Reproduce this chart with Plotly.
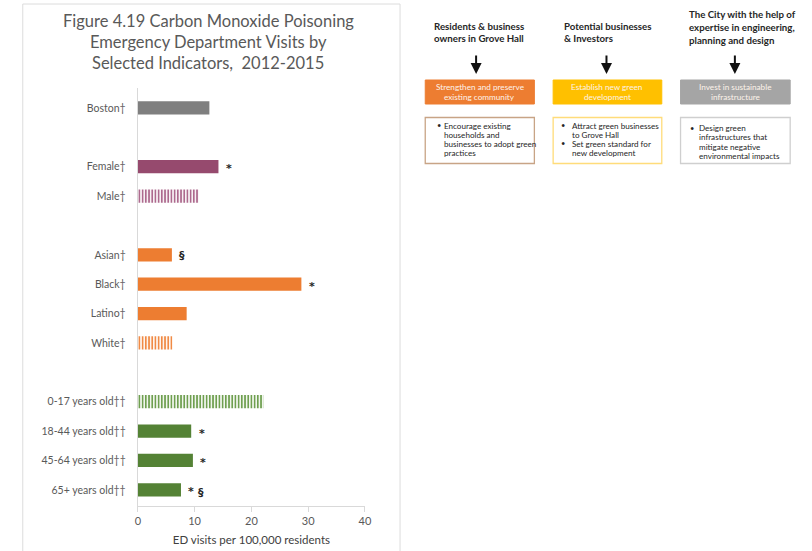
import plotly.graph_objects as go

# ---- data -------------------------------------------------------------
group_boston = ["Boston†"]
group_sex = ["Female†", "Male†"]
group_race = ["Asian†", "Black†", "Latino†", "White†"]
group_age = ["0-17 years old††", "18-44 years old††", "45-64 years old††", "65+ years old††"]

rate_boston = [12.6]
rate_sex = [14.2, 10.7]
rate_race = [6.0, 28.8, 8.6, 6.1]
rate_age = [22.1, 9.4, 9.7, 7.6]

# significance markers shown to the right of each bar
flags_boston = [""]
flags_sex = ["*", ""]
flags_race = ["§", "*", "", ""]
flags_age = ["", "*", "*", "*"]
extra_flag_age = ["", "", "", "§"]

x_ticks = [0, 10, 20, 30, 40]
x_title = "ED visits per 100,000 residents"

title_lines = [
    "Figure 4.19 Carbon Monoxide Poisoning",
    "Emergency Department Visits by",
    "Selected Indicators,  2012-2015",
]

# ---- styling ----------------------------------------------------------
W, H = 812, 551
FONT = "Lato"
GREY_TXT = "#595959"
AXIS_CLR = "#d9d9d9"

group_styles = [
    # (fill colour, striped?) per bar
    [("#7f7f7f", False)],
    [("#964a6e", False), ("#ad6a8e", True)],
    [("#ed7d31", False), ("#ed7d31", False), ("#ed7d31", False), ("#f08a45", True)],
    [("#6f9f50", True), ("#548235", False), ("#548235", False), ("#548235", False)],
]

groups = [group_boston, group_sex, group_race, group_age]
rates = [rate_boston, rate_sex, rate_race, rate_age]
flags = [flags_boston, flags_sex, flags_race, flags_age]

# slot index for each bar, leaving one empty slot between groups
labels, values, slots, colors, shapes_p, flag_list = [], [], [], [], [], []
slot = 0
for gi, (g, r, f, st) in enumerate(zip(groups, rates, flags, group_styles)):
    for lab, val, fl, (col, striped) in zip(g, r, f, st):
        labels.append(lab)
        values.append(val)
        slots.append(slot)
        colors.append(col)
        shapes_p.append("|" if striped else "")
        flag_list.append(fl)
        slot += 1
    slot += 1

def px(x):
    return x / W

def py(y):
    return 1 - y / H

fig = go.Figure()

fig.add_trace(go.Bar(
    x=values,
    y=slots,
    orientation="h",
    width=0.45,
    marker=dict(
        color=colors,
        line=dict(width=0),
        pattern=dict(shape=shapes_p, size=3.2, solidity=0.55, fillmode="replace"),
    ),
    hoverinfo="skip",
    showlegend=False,
))

annotations = []

# significance markers
FLAG_FONT = dict(family="DejaVu Sans", size=11, color="#262626")
for v, s, fl in zip(values, slots, flag_list):
    if fl:
        annotations.append(dict(
            x=v, y=s, xref="x", yref="y", text=f"<b>{fl}</b>", showarrow=False,
            xshift=10.5, yshift=-2 if fl == "*" else -1,
            xanchor="center", yanchor="middle", font=FLAG_FONT,
        ))
for v, s, fl in zip(rate_age, slots[-len(rate_age):], extra_flag_age):
    if fl:
        annotations.append(dict(
            x=v, y=s, xref="x", yref="y", text=f"<b>{fl}</b>", showarrow=False,
            xshift=20, yshift=-3, xanchor="center", yanchor="middle", font=FLAG_FONT,
        ))

# chart title, one annotation per line
for i, line in enumerate(title_lines):
    annotations.append(dict(
        x=px(208), y=py(21 + 21.2 * i), xref="paper", yref="paper",
        text=line, showarrow=False, xanchor="center", yanchor="middle",
        font=dict(family=FONT, size=16.5, color=GREY_TXT),
    ))

# ---- flow diagram on the right -----------------------------------------
columns = [
    dict(
        header=["Residents & business", "owners in Grove Hall"],
        header_y=[26, 38.5], header_x=434,
        action=["Strengthen and preserve", "existing community"],
        fill="#ed7d31", border="#c8a486",
        bullets=[["Encourage existing", "households and", "businesses to adopt green", "practices"]],
        bullet_x=437, text_x=444, first_line=125.5,
        x0=427.5, x1=538, arrow_x=479,
    ),
    dict(
        header=["Potential businesses", "& Investors"],
        header_y=[26, 38.5], header_x=566,
        action=["Establish new green", "development"],
        fill="#ffc000", border="#ffdc7a",
        bullets=[["Attract green businesses", "to Grove Hall"], ["Set green standard for", "new development"]],
        bullet_x=563, text_x=574.5, first_line=125.5,
        x0=557, x1=667, arrow_x=611,
    ),
    dict(
        header=["The City with the help of", "expertise in engineering,", "planning and design"],
        header_y=[14, 27, 40], header_x=693,
        action=["Invest in sustainable", "infrastructure"],
        fill="#a5a5a5", border="#cfcfcf",
        bullets=[["Design green", "infrastructures that", "mitigate negative", "environmental impacts"]],
        bullet_x=694, text_x=702.5, first_line=128.3,
        x0=686, x1=797, arrow_x=741,
    ),
]

shapes = [
    # frame around the bar chart panel
    dict(type="rect", xref="paper", yref="paper",
         x0=px(20), x1=px(402), y0=py(560), y1=py(4),
         line=dict(color="#dcdcdc", width=1), fillcolor="rgba(0,0,0,0)", layer="below"),
]

for col in columns:
    for t, yy in zip(col["header"], col["header_y"]):
        annotations.append(dict(
            x=px(col["header_x"]), y=py(yy), xref="paper", yref="paper",
            text=f"<b>{t}</b>", showarrow=False, xanchor="left", yanchor="middle",
            font=dict(family=FONT, size=9.7, color="#262626"),
        ))
    # downward arrow
    annotations.append(dict(
        x=px(col["arrow_x"]), y=py(74), xref="paper", yref="paper",
        ax=0, ay=-20, text="", showarrow=True,
        arrowhead=2, arrowsize=1.1, arrowwidth=2, arrowcolor="#111111",
    ))
    # coloured action box
    shapes.append(dict(
        type="rect", xref="paper", yref="paper",
        x0=px(col["x0"]), x1=px(col["x1"]), y0=py(104), y1=py(80),
        line=dict(color=col["fill"], width=1), fillcolor=col["fill"],
    ))
    for i, t in enumerate(col["action"]):
        annotations.append(dict(
            x=px((col["x0"] + col["x1"]) / 2), y=py(87 + 10.5 * i),
            xref="paper", yref="paper", text=t, showarrow=False,
            xanchor="center", yanchor="middle",
            font=dict(family=FONT, size=8.2, color="#fdf3ea"),
        ))
    # bullet box
    shapes.append(dict(
        type="rect", xref="paper", yref="paper",
        x0=px(col["x0"]), x1=px(col["x1"]), y0=py(163.5), y1=py(117.5),
        line=dict(color=col["border"], width=1.3), fillcolor="#ffffff",
    ))
    yy = col["first_line"]
    for bullet in col["bullets"]:
        annotations.append(dict(
            x=px(col["bullet_x"]), y=py(yy), xref="paper", yref="paper",
            text="•", showarrow=False, xanchor="left", yanchor="middle",
            font=dict(family=FONT, size=7.5, color="#262626"),
        ))
        for t in bullet:
            annotations.append(dict(
                x=px(col["text_x"]), y=py(yy), xref="paper", yref="paper",
                text=t, showarrow=False, xanchor="left", yanchor="middle",
                font=dict(family=FONT, size=8.1, color="#262626"),
            ))
            yy += 9.1

fig.update_layout(
    width=W, height=H,
    margin=dict(l=0, r=0, t=0, b=0),
    paper_bgcolor="#ffffff",
    plot_bgcolor="#ffffff",
    font=dict(family=FONT, color=GREY_TXT),
    bargap=0.5,
    xaxis=dict(
        domain=[px(136.5), px(366.5)],
        range=[0, 40],
        tickvals=x_ticks,
        ticks="outside", ticklen=5, tickcolor=AXIS_CLR, tickwidth=1,
        showline=True, linecolor=AXIS_CLR, linewidth=1,
        showgrid=False, zeroline=False,
        tickfont=dict(family=FONT, size=11, color=GREY_TXT),
        title=dict(text=x_title, standoff=9,
                   font=dict(family=FONT, size=11.5, color="#404040")),
        fixedrange=True,
    ),
    yaxis=dict(
        domain=[py(506), py(88)],
        range=[slots[-1] + 0.55, -0.68],
        tickvals=slots,
        ticktext=labels,
        ticks="", showline=True, linecolor=AXIS_CLR, linewidth=1,
        showgrid=False, zeroline=False,
        ticklabelstandoff=9,
        tickfont=dict(family=FONT, size=10.5, color=GREY_TXT),
        fixedrange=True,
    ),
    shapes=shapes,
    annotations=annotations,
)

fig.write_html("out.html")
